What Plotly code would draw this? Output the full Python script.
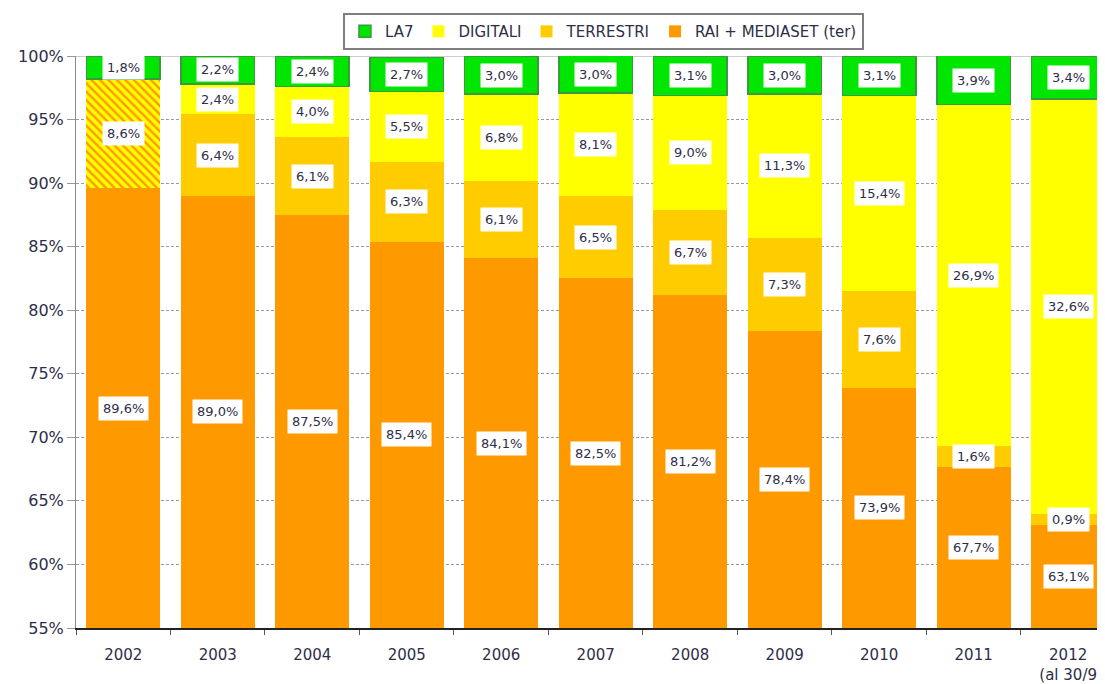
import plotly.graph_objects as go

years = ["2002", "2003", "2004", "2005", "2006", "2007", "2008", "2009", "2010", "2011", "2012<br>(al 30/9"]
rai_mediaset = [89.6, 89.0, 87.5, 85.4, 84.1, 82.5, 81.2, 78.4, 73.9, 67.7, 63.1]
terrestri = [8.6, 6.4, 6.1, 6.3, 6.1, 6.5, 6.7, 7.3, 7.6, 1.6, 0.9]
digitali = [0, 2.4, 4.0, 5.5, 6.8, 8.1, 9.0, 11.3, 15.4, 26.9, 32.6]
la7 = [1.8, 2.2, 2.4, 2.7, 3.0, 3.0, 3.1, 3.0, 3.1, 3.9, 3.4]
y_ticks = [55, 60, 65, 70, 75, 80, 85, 90, 95, 100]
hatched_years = ["2002"]  # 2002 segment drawn hatched (terrestri + digitali not separated)

C_RAI = "#FF9900"
C_TER = "#FFCC00"
C_DIG = "#FFFF00"
C_LA7 = "#00E600"
FONT = "DejaVu Sans"
TXT = "#2E2E48"

ymin, ymax = 55, 100

fig = go.Figure()

fig.add_trace(go.Bar(x=years, y=rai_mediaset, name="RAI + MEDIASET (ter)",
                     marker=dict(color=C_RAI, line=dict(width=0))))

ter_plain = [v if y not in hatched_years else 0 for y, v in zip(years, terrestri)]
ter_hatch = [v if y in hatched_years else 0 for y, v in zip(years, terrestri)]
fig.add_trace(go.Bar(x=years, y=ter_plain, name="TERRESTRI",
                     marker=dict(color=C_TER, line=dict(width=0))))
fig.add_trace(go.Bar(x=years, y=ter_hatch, name="TERRESTRI", showlegend=False,
                     marker=dict(color=C_DIG, line=dict(width=0),
                                 pattern=dict(shape="\\", fgcolor=C_RAI, bgcolor=C_DIG,
                                              size=6, solidity=0.4, fillmode="replace"))))
fig.add_trace(go.Bar(x=years, y=digitali, name="DIGITALI",
                     marker=dict(color=C_DIG, line=dict(width=0))))
fig.add_trace(go.Bar(x=years, y=la7, name="LA7",
                     marker=dict(color=C_LA7, line=dict(width=1.5, color="#3C9A3C"))))

# value labels in white boxes, centred on the visible part of each segment
annotations = []
for i, yr in enumerate(years):
    base = 0.0
    for v in (rai_mediaset[i], terrestri[i], digitali[i], la7[i]):
        if v > 0:
            lo = max(base, ymin)
            hi = min(base + v, ymax)
            annotations.append(dict(
                x=i, y=(lo + hi) / 2, xref="x", yref="y",
                text=f"{v:.1f}%".replace(".", ","), showarrow=False,
                font=dict(family=FONT, size=13, color=TXT),
                bgcolor="white", borderpad=4))
        base += v

fig.update_layout(
    width=1097, height=676,
    margin=dict(l=68, r=0, t=48, b=52),
    paper_bgcolor="white", plot_bgcolor="white",
    barmode="stack", bargap=0.22,
    font=dict(family=FONT, color=TXT),
    annotations=annotations,
    legend=dict(orientation="h", x=0.5126, xanchor="center", y=1.075, yanchor="top",
                traceorder="reversed", bordercolor="#7F7F7F", borderwidth=2,
                font=dict(family=FONT, size=15, color=TXT), bgcolor="white",
                itemwidth=30),
    xaxis=dict(type="category", range=[-0.5, 10.39], showgrid=False,
               showline=True, linecolor="#222222", linewidth=2,
               ticks="outside", tickson="boundaries", ticklen=5, tickcolor="#555555",
               ticklabelstandoff=12,
               tickfont=dict(family=FONT, size=15, color=TXT)),
    yaxis=dict(range=[ymin, ymax], tickvals=y_ticks, ticktext=[f"{t}%" for t in y_ticks],
               showgrid=True, gridcolor="#9A9A9A", griddash="3px,2px", gridwidth=1,
               showline=True, linecolor="#8A8A8A", linewidth=1,
               ticks="outside", ticklen=8, tickcolor="#9A9A9A",
               tickfont=dict(family=FONT, size=16, color=TXT), zeroline=False),
    shapes=[dict(type="line", xref="paper", yref="y", x0=0, x1=1, y0=ymax, y1=ymax,
                 line=dict(color="#9A9A9A", width=1), layer="below")],
)

fig.write_html("out.html")
